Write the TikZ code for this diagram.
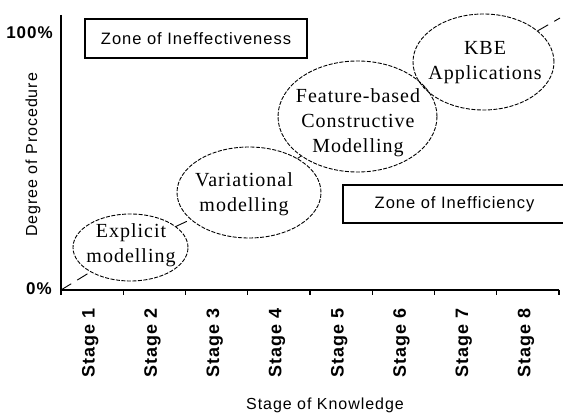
\documentclass[tikz,border=0pt]{standalone}
\usepackage{fontspec}
\setmainfont{Liberation Serif}
\setsansfont{Liberation Sans}
\newfontfamily\ellfont[LetterSpace=5]{Liberation Serif}
\newfontfamily\labfont[LetterSpace=6]{Liberation Sans}
\usetikzlibrary{shapes.geometric}
\begin{document}
\begin{tikzpicture}[x=1pt,y=-1pt,
  axis/.style={line width=1.4pt, line join=miter},
  bubble/.style={ellipse, draw, line width=0.9pt, dash pattern=on 4pt off 1.5pt, inner sep=0pt},
  bubbletext/.style={font=\ellfont\fontsize{20}{25}\selectfont, align=center, inner sep=0pt},
  zone/.style={draw, line width=1.2pt, font=\labfont\fontsize{16.5}{20}\selectfont, inner sep=0pt},
  stagelab/.style={rotate=90, anchor=base east, inner sep=0pt, font=\labfont\bfseries\fontsize{18}{21}\selectfont},
  pct/.style={anchor=east, inner sep=0pt, font=\labfont\bfseries\fontsize{17}{20}\selectfont},
  axtitle/.style={inner sep=0pt, anchor=base, font=\labfont\fontsize{16}{19}\selectfont},
  trend/.style={line width=0.9pt, dash pattern=on 12pt off 7pt},
]
\clip (0,0) rectangle (563,414);
\fill[white] (0,0) rectangle (563,414);

% axes
\coordinate (O) at (61,290);
\coordinate (ytop) at (61,15);
\coordinate (xend) at (559,290);
\coordinate (tend) at (560,18);
\draw[axis] (ytop) -- (O) -- (xend);
\foreach \i in {0,...,8} \draw[axis] ({61+62.25*\i},290) -- ++(0,5);

% stage labels
\foreach \i in {1,...,8}
  \node[stagelab] (s\i) at ({61+62.25*(\i-0.5)+2.5},308) {Stage \i};

\node[pct] (p100) at (53,33) {100\%};
\node[pct] (p0) at (52,289) {0\%};
\node[axtitle, rotate=90] (ylab) at (37,155) {Degree of Procedure};
\node[axtitle] (xlab) at (325,409.5) {Stage of Knowledge};

% zones
\node[zone, minimum width=222pt, minimum height=39pt] (zin) at (196,38.5) {Zone of Ineffectiveness};
\node[zone, minimum width=223pt, minimum height=38pt] (zif) at (454.5,204) {Zone of Inefficiency};

% ellipses
\node[bubble, minimum width=115pt, minimum height=67pt] (e1) at (130.5,247.5) {};
\node[bubbletext] (t1) at (131,245.5) {Explicit\\modelling};
\node[bubble, minimum width=144pt, minimum height=91pt] (e2) at (249,192.5) {};
\node[bubbletext] (t2) at (244,194.5) {Variational\\modelling};
\node[bubble, minimum width=159pt, minimum height=111pt] (e3) at (357.5,116.5) {};
\node[bubbletext] (t3) at (358,122.5) {Feature-based\\Constructive\\Modelling};
\node[bubble, minimum width=141pt, minimum height=96pt] (e4) at (483.5,62) {};
\node[bubbletext] (t4) at (485,63) {KBE\\Applications};

% trend line
\draw[trend] (O) -- (e1);
\draw[trend] (e1) -- (e2);
\draw[trend] (e2) -- (e3);
\draw[trend] (e3) -- (e4);
\draw[trend] (e4) -- (tend);
\end{tikzpicture}
\end{document}
